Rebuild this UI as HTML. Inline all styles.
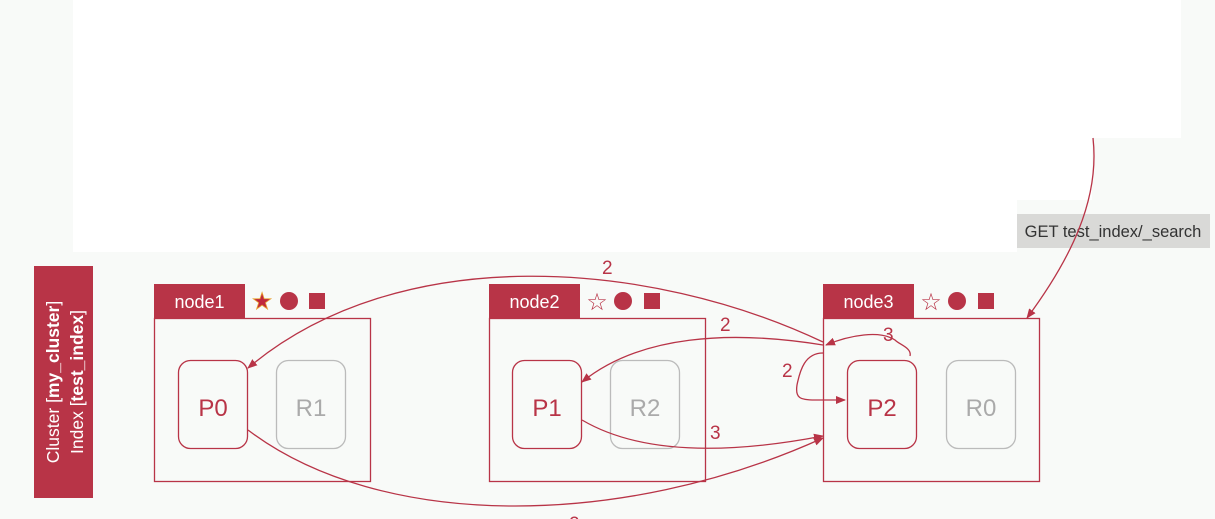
<!DOCTYPE html>
<html><head><meta charset="utf-8"><style>
body{margin:0;width:1215px;height:519px;overflow:hidden;background:#f8faf8;font-family:"Liberation Sans","DejaVu Sans",sans-serif}
svg{display:block}
</style></head><body>
<svg width="1215" height="519" viewBox="0 0 1215 519">
<defs>
<marker id="ah" viewBox="0 0 10 10" refX="9" refY="5" markerWidth="10" markerHeight="10" orient="auto-start-reverse" markerUnits="userSpaceOnUse"><path d="M0,1 L10,5 L0,9 Z" fill="#b83447"/></marker>
</defs>
<polygon points="73,0 1181,0 1181,138 1092,138 1092,200 1017,200 1017,252 73,252" fill="#ffffff"/>
<rect x="1017" y="214" width="193" height="34" fill="#d9d9d7"/>
<text x="1113" y="237" font-size="16.5" fill="#333" text-anchor="middle">GET test_index/_search</text>

<rect x="34" y="266" width="59" height="232" fill="#b83447"/>
<g transform="translate(63,382) rotate(-90)" fill="#fff" font-size="17.5" text-anchor="middle">
<text y="-4">Cluster [<tspan font-weight="bold">my_cluster</tspan>]</text>
<text y="20">Index [<tspan font-weight="bold">test_index</tspan>]</text>
</g>

<g>
<rect x="154" y="284" width="91" height="34" fill="#b83447"/>
<text x="199.5" y="308" font-size="18" fill="#fff" text-anchor="middle">node1</text>
<rect x="154.5" y="318.5" width="216" height="163" fill="none" stroke="#b83447" stroke-width="1.3"/>
<text x="262" y="309" font-size="23" fill="#c0283c" stroke="#e8a030" stroke-width="0.8" text-anchor="middle">★</text>
<circle cx="289" cy="301" r="9" fill="#b83447"/>
<rect x="309" y="293" width="16" height="16" fill="#b83447"/>
<rect x="178.5" y="360.5" width="69" height="88" rx="12" fill="none" stroke="#b83447" stroke-width="1.3"/>
<text x="213" y="416" font-size="24" fill="#b83447" text-anchor="middle">P0</text>
<rect x="276.5" y="360.5" width="69" height="88" rx="12" fill="none" stroke="#bbb" stroke-width="1.3"/>
<text x="311" y="416" font-size="24" fill="#aaa" text-anchor="middle">R1</text>
</g>
<g>
<rect x="489" y="284" width="91" height="34" fill="#b83447"/>
<text x="534.5" y="308" font-size="18" fill="#fff" text-anchor="middle">node2</text>
<rect x="489.5" y="318.5" width="216" height="163" fill="none" stroke="#b83447" stroke-width="1.3"/>
<text x="597" y="310" font-size="24" fill="#b83447" text-anchor="middle">☆</text>
<circle cx="623" cy="301" r="9" fill="#b83447"/>
<rect x="644" y="293" width="16" height="16" fill="#b83447"/>
<rect x="512.5" y="360.5" width="69" height="88" rx="12" fill="none" stroke="#b83447" stroke-width="1.3"/>
<text x="547" y="416" font-size="24" fill="#b83447" text-anchor="middle">P1</text>
<rect x="610.5" y="360.5" width="69" height="88" rx="12" fill="none" stroke="#bbb" stroke-width="1.3"/>
<text x="645" y="416" font-size="24" fill="#aaa" text-anchor="middle">R2</text>
</g>
<g>
<rect x="823" y="284" width="91" height="34" fill="#b83447"/>
<text x="868.5" y="308" font-size="18" fill="#fff" text-anchor="middle">node3</text>
<rect x="823.5" y="318.5" width="216" height="163" fill="none" stroke="#b83447" stroke-width="1.3"/>
<text x="931" y="310" font-size="24" fill="#b83447" text-anchor="middle">☆</text>
<circle cx="957" cy="301" r="9" fill="#b83447"/>
<rect x="978" y="293" width="16" height="16" fill="#b83447"/>
<rect x="847.5" y="360.5" width="69" height="88" rx="12" fill="none" stroke="#b83447" stroke-width="1.3"/>
<text x="882" y="416" font-size="24" fill="#b83447" text-anchor="middle">P2</text>
<rect x="946.5" y="360.5" width="69" height="88" rx="12" fill="none" stroke="#bbb" stroke-width="1.3"/>
<text x="981" y="416" font-size="24" fill="#aaa" text-anchor="middle">R0</text>
</g>

<g fill="none" stroke="#b83447" stroke-width="1.3">
<path d="M1093,138 C1100,200 1070,260 1027,318" marker-end="url(#ah)"/>
<path d="M823,342 C650,260 400,240 248,368" marker-end="url(#ah)"/>
<path d="M823,345 C730,330 640,335 582,382" marker-end="url(#ah)"/>
<path d="M910,356 C912,348 900,345 895,340 C880,330 850,335 826,345" marker-end="url(#ah)"/>
<path d="M823,353 C805,353 800,370 797,385 C795,398 800,400 815,400 L845,400" marker-end="url(#ah)"/>
<path d="M582,420 C650,460 750,450 823,436" marker-end="url(#ah)"/>
<path d="M248,430 C380,530 620,530 823,438" marker-end="url(#ah)"/>
</g>
<g font-size="19" fill="#b83447">
<text x="602" y="274">2</text>
<text x="720" y="331">2</text>
<text x="883" y="341">3</text>
<text x="782" y="377">2</text>
<text x="710" y="439">3</text>
<text x="569" y="530">2</text>
</g>
</svg>
</body></html>
